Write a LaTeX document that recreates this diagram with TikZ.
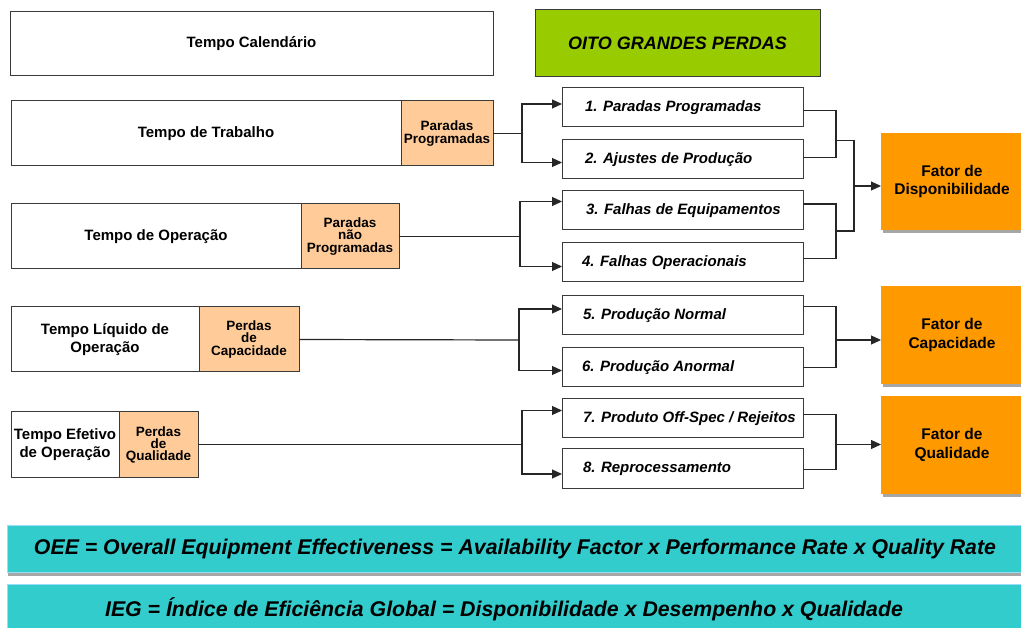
\documentclass[tikz,border=0pt]{standalone}
\usepackage{fontspec}
\setmainfont{Liberation Sans}
\usetikzlibrary{arrows.meta,positioning,shadows}

\definecolor{peach}{HTML}{FFCC99}
\definecolor{lime}{HTML}{99CC00}
\definecolor{fatorfill}{HTML}{FF9900}
\definecolor{barfill}{HTML}{33CCCC}
\definecolor{edgegray}{HTML}{3A3A3A}

\begin{document}
\begin{tikzpicture}[x=1pt,y=-1pt]
\tikzstyle{every node}+=[inner sep=0pt, outer sep=0pt]
\tikzstyle{tempo}=[draw=edgegray, line width=1pt, fill=white, align=center, font=\fontsize{15}{18}\selectfont\bfseries]
\tikzstyle{perda}=[tempo, fill=peach, minimum height=65, font=\fontsize{13.5}{12.5}\selectfont\bfseries]
\tikzstyle{lossbox}=[draw=edgegray, line width=1pt, fill=white, minimum width=241, minimum height=39, anchor=north west]
\tikzstyle{losstext}=[anchor=west, font=\fontsize{15}{18}\selectfont\bfseries\itshape]
\tikzstyle{fator}=[fill=fatorfill, minimum width=142, anchor=north west, align=center, font=\fontsize{15.5}{18.5}\selectfont\bfseries, drop shadow={shadow xshift=2pt, shadow yshift=-3pt, fill=gray!70, opacity=1}]
\tikzstyle{conn}=[line width=1.2pt, black!85]
\tikzstyle{arr}=[conn, -{Triangle[length=10pt,width=9pt]}]
\tikzstyle{bar}=[fill=barfill, draw=cyan!40, line width=1pt, minimum width=1016, anchor=north west, font=\fontsize{21.3}{23}\selectfont\bfseries\itshape]
\clip (0,0) rectangle (1021,628);

% left column: time blocks
\node[tempo, anchor=north west, minimum width=483, minimum height=64] (cal) at (10,12) {Tempo Calendário};
\node[tempo, anchor=north west, minimum width=390, minimum height=65] (trab) at (11,101) {Tempo de Trabalho};
\node[perda, minimum width=92, right=0pt of trab] (pprog) {Paradas\\Programadas};
\node[tempo, anchor=north west, minimum width=290, minimum height=65] (oper) at (11,204) {Tempo de Operação};
\node[perda, minimum width=98, right=0pt of oper] (pnprog) {Paradas\\não\\Programadas};
\node[tempo, anchor=north west, minimum width=188, minimum height=65] (liq) at (11,307) {Tempo Líquido de\\Operação};
\node[perda, minimum width=100, right=0pt of liq] (pcap) {Perdas\\de\\Capacidade};
\node[tempo, anchor=north west, minimum width=108, minimum height=65] (efet) at (11,412) {Tempo Efetivo\\de Operação};
\node[perda, minimum width=79, right=0pt of efet, font=\fontsize{13.5}{12}\selectfont\bfseries] (pqual) {Perdas\\de\\Qualidade};

% middle column: the eight losses
\node[draw=edgegray, line width=1pt, fill=lime, anchor=north west, minimum width=285, minimum height=67, font=\fontsize{18}{20}\selectfont\bfseries\itshape] (oito) at (535,10) {OITO GRANDES PERDAS};
\node[lossbox] (l1) at (562,88) {};
\node[losstext, right=23pt of l1.west] (t1) {1. Paradas Programadas};
\node[lossbox] (l2) at (562,140) {};
\node[losstext, right=23pt of l2.west] (t2) {2. Ajustes de Produção};
\node[lossbox] (l3) at (562,191) {};
\node[losstext, right=24pt of l3.west] (t3) {3. Falhas de Equipamentos};
\node[lossbox] (l4) at (562,243) {};
\node[losstext, right=20pt of l4.west] (t4) {4. Falhas Operacionais};
\node[lossbox] (l5) at (562,296) {};
\node[losstext, right=21pt of l5.west] (t5) {5. Produção Normal};
\node[lossbox] (l6) at (562,348) {};
\node[losstext, right=20pt of l6.west] (t6) {6. Produção Anormal};
\node[lossbox] (l7) at (562,399) {};
\node[losstext, right=21pt of l7.west] (t7) {7. Produto Off-Spec / Rejeitos};
\node[lossbox] (l8) at (562,449) {};
\node[losstext, right=21pt of l8.west] (t8) {8. Reprocessamento};

% right column: factors
\node[fator, minimum height=97] (fdisp) at (881,133) {Fator de\\Disponibilidade};
\node[fator, minimum height=98] (fcap) at (881,286) {Fator de\\Capacidade};
\node[text=gray!60, font=\fontsize{11}{11}\selectfont] (dots) at (1012,347) {:};
\node[fator, minimum height=98] (fqual) at (881,396) {Fator de\\Qualidade};

% formulas
\node[bar, minimum height=47] (oee) at (7,525) {OEE = Overall Equipment Effectiveness = Availability Factor x Performance Rate x Quality Rate};
\draw[gray!70, line width=3pt] (oee.south west) ++(1,2) -- ([yshift=-2pt]oee.south east);
\node[bar, minimum height=50] (ieg) at (7,584) {\hspace*{-22pt}IEG = Índice de Eficiência Global = Disponibilidade x Desempenho x Qualidade};

% branches into the losses
\coordinate (b1) at (522,133.5);
\coordinate (b2) at (520,236.5);
\coordinate (b3) at (519,340);
\coordinate (b4) at (522,444.5);
\draw[conn] (pprog.east) -- (b1);
\draw[arr] (b1) |- ([yshift=3.5pt]l1.west);
\draw[arr] (b1) |- ([yshift=-3pt]l2.west);
\draw[conn] (pnprog.east) -- (b2);
\draw[arr] (b2) |- ([yshift=9pt]l3.west);
\draw[arr] (b2) |- ([yshift=-4pt]l4.west);
\draw[conn] (pcap.east) -- (b3);
\draw[arr] (b3) |- ([yshift=6.5pt]l5.west);
\draw[arr] (b3) |- ([yshift=-3pt]l6.west);
\draw[conn] (pqual.east) -- (b4);
\draw[arr] (b4) |- ([yshift=8pt]l7.west);
\draw[arr] (b4) |- ([yshift=-5.5pt]l8.west);

% merging into the factors
\coordinate (m12) at (836,140.5);
\coordinate (m34) at (836,231);
\coordinate (j1) at (854,186);
\coordinate (m56) at (836,340);
\coordinate (m78) at (836,444.5);
\draw[conn] ([yshift=-3pt]l1.east) -| (m12) |- ([yshift=2pt]l2.east);
\draw[conn] ([yshift=6.5pt]l3.east) -| (m34) |- ([yshift=4pt]l4.east);
\draw[conn] (m12) -| (j1);
\draw[conn] (m34) -| (j1);
\draw[arr] (j1) -- (fdisp.west |- j1);
\draw[conn] ([yshift=9pt]l5.east) -| (m56) |- (l6.east);
\draw[arr] (m56) -- (fcap.west |- m56);
\draw[conn] ([yshift=4pt]l7.east) -| (m78) |- ([yshift=-1pt]l8.east);
\draw[arr] (m78) -- (fqual.west |- m78);
\end{tikzpicture}
\end{document}
